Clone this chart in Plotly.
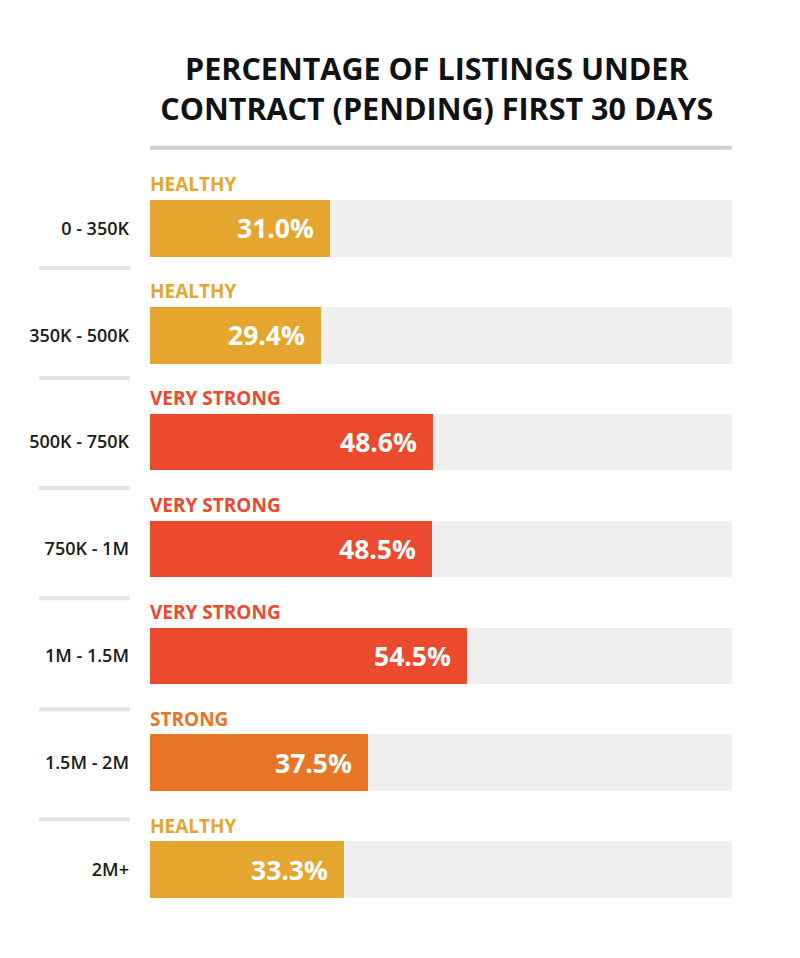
import plotly.graph_objects as go

categories = ["0 - 350K", "350K - 500K", "500K - 750K", "750K - 1M", "1M - 1.5M", "1.5M - 2M", "2M+"]
values = [31.0, 29.4, 48.6, 48.5, 54.5, 37.5, 33.3]
statuses = ["HEALTHY", "HEALTHY", "VERY STRONG", "VERY STRONG", "VERY STRONG", "STRONG", "HEALTHY"]
full_scale = [100] * len(categories)

status_colors = {"HEALTHY": "#E5A630", "VERY STRONG": "#EC4A2F", "STRONG": "#E87426"}
bar_colors = [status_colors[s] for s in statuses]

FONT = "Open Sans"

fig = go.Figure()
fig.add_trace(go.Bar(
    y=categories, x=full_scale, orientation="h",
    marker=dict(color="#EFEFEF", line=dict(width=0)),
    width=0.53, hoverinfo="skip", showlegend=False,
))
fig.add_trace(go.Bar(
    y=categories, x=values, orientation="h",
    marker=dict(color=bar_colors, line=dict(width=0)),
    width=0.53, showlegend=False,
))

annotations = []
for cat, val, st in zip(categories, values, statuses):
    annotations.append(dict(
        x=0, y=cat, xref="x", yref="y", text=st, showarrow=False,
        xanchor="left", yanchor="middle", yshift=44, xshift=-2,
        font=dict(family=FONT, size=19, color=status_colors[st], weight="bold"),
    ))
    annotations.append(dict(
        x=val, y=cat, xref="x", yref="y", text=f"{val:.1f}%", showarrow=False,
        xanchor="right", yanchor="middle", xshift=-14,
        font=dict(family=FONT, size=26.5, color="white", weight="bold"),
    ))

separator_y = [0.37, 1.40, 2.43, 3.46, 4.50, 5.53]
shapes = [dict(type="line", xref="paper", yref="y", x0=-0.1907, x1=-0.0344,
               y0=sy, y1=sy, line=dict(color="#E1E4EB", width=4)) for sy in separator_y]
shapes.append(dict(type="line", xref="paper", yref="paper", x0=0, x1=1,
                   y0=1.0363, y1=1.0363, line=dict(color="#CBD0D6", width=4)))

fig.update_layout(
    width=800, height=958,
    margin=dict(l=142, r=76, t=167, b=43),
    paper_bgcolor="white", plot_bgcolor="white",
    barmode="overlay", bargap=0,
    title=dict(
        text="PERCENTAGE OF LISTINGS UNDER<br>CONTRACT (PENDING) FIRST 30 DAYS",
        x=0.536, xanchor="center", y=1 - 72 / 958, yanchor="middle",
        font=dict(family=FONT, size=30.5, color="#111111", weight="bold"),
    ),
    xaxis=dict(range=[0, 100], visible=False, fixedrange=True),
    yaxis=dict(
        categoryorder="array", categoryarray=categories,
        range=[6.5, -0.5], showgrid=False, zeroline=False, showline=False,
        ticks="", ticklabelstandoff=20,
        tickfont=dict(family=FONT, size=18, color="#1A1A1A", weight=600),
    ),
    annotations=annotations,
    shapes=shapes,
)

fig.write_html("out.html")
